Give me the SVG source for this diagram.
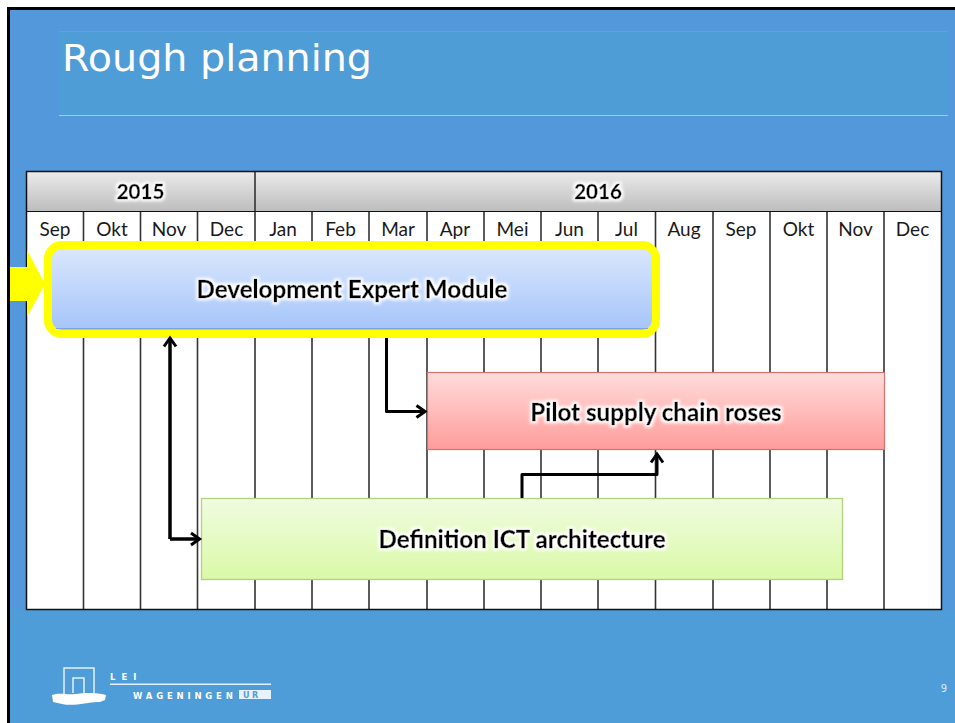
<svg xmlns="http://www.w3.org/2000/svg" width="955" height="723" viewBox="0 0 955 723">
<style>
.mon{font:19px Lato,"Liberation Sans",sans-serif;fill:#1a1a1a;text-anchor:middle}
.yr{font:bold 20.500px Lato,"Liberation Sans",sans-serif;fill:#000;stroke:#000;stroke-width:.35;text-anchor:middle}
.bar{font:bold 24.200px Lato,"Liberation Sans",sans-serif;fill:#000;stroke:#000;stroke-width:.35;text-anchor:middle}
.grid{stroke:#333;stroke-width:1.6;fill:none}
.conn{stroke:#000;fill:none;stroke-linejoin:round}
.logo{font-family:"DejaVu Sans",sans-serif;font-weight:bold;fill:#fff}
</style>
<defs>
<linearGradient id="hdr" x1="0" y1="0" x2="0" y2="1"><stop offset="0" stop-color="#ebebeb"/><stop offset="1" stop-color="#bdbdbd"/></linearGradient>
<linearGradient id="blue" x1="0" y1="0" x2="0" y2="1"><stop offset="0" stop-color="#dce8fd"/><stop offset="1" stop-color="#a3c3f9"/></linearGradient>
<linearGradient id="red" x1="0" y1="0" x2="0" y2="1"><stop offset="0" stop-color="#ffdcdc"/><stop offset="1" stop-color="#fe9c9a"/></linearGradient>
<linearGradient id="green" x1="0" y1="0" x2="0" y2="1"><stop offset="0" stop-color="#f0fcdf"/><stop offset="1" stop-color="#daf9a8"/></linearGradient>
<filter id="glow" x="-10%" y="-40%" width="120%" height="180%">
<feMorphology in="SourceAlpha" operator="dilate" radius="1.5" result="d"/>
<feGaussianBlur in="d" stdDeviation="1.6" result="b"/>
<feFlood flood-color="#fff"/><feComposite in2="b" operator="in" result="w"/>
<feMerge><feMergeNode in="w"/><feMergeNode in="SourceGraphic"/></feMerge>
</filter>
<marker id="arr" markerUnits="userSpaceOnUse" markerWidth="16" markerHeight="18" refX="12.5" refY="8" orient="auto"><path d="M4 2L12.500 8L4 14" fill="none" stroke="#000" stroke-width="3"/></marker>
</defs>

<g id="background">
<rect width="955" height="723" fill="#fff"/>
<rect x="7" y="7" width="948" height="716" fill="#000"/>
<rect x="10" y="10" width="945" height="713" fill="#5398da"/>
<rect x="10" y="610" width="945" height="113" fill="#4f9dd8"/>
<rect x="59" y="31" width="889" height="84" fill="#4e9dd7"/>
<line x1="59" y1="31.500" x2="948" y2="31.500" stroke="#5aa6d8"/>
<line x1="59" y1="115.500" x2="948" y2="115.500" stroke="#9ccbec"/>
</g>
<g id="title"><text x="62" y="71" font-family="'DejaVu Sans',sans-serif" font-size="38" fill="#fff" textLength="310" lengthAdjust="spacingAndGlyphs">Rough planning</text></g>

<g id="table">
<rect x="26.500" y="211" width="915" height="398" fill="#fff"/>
<rect x="26.500" y="171.500" width="915" height="40" fill="url(#hdr)"/>
<path class="grid" d="M83.500 211V609M140.500 211V609M197.500 211V609M255 171V609M312 211V609M369 211V609M427 211V609M484 211V609M541 211V609M598 211V609M655.500 211V609M713 211V609M770 211V609M827 211V609M884 211V609"/>
<rect x="26.500" y="171.500" width="915" height="438" fill="none" stroke="#111" stroke-width="1.500"/>
<line x1="26" y1="211.500" x2="941" y2="211.500" stroke="#111" stroke-width="1.200"/>
<text class="yr" x="140.500" y="199" filter="url(#glow)">2015</text>
<text class="yr" x="598" y="199" filter="url(#glow)">2016</text>
<text class="mon" x="55" y="236">Sep</text><text class="mon" x="112" y="236">Okt</text><text class="mon" x="169" y="236">Nov</text><text class="mon" x="226.500" y="236">Dec</text><text class="mon" x="283" y="236">Jan</text><text class="mon" x="340.500" y="236">Feb</text><text class="mon" x="398" y="236">Mar</text><text class="mon" x="455" y="236">Apr</text><text class="mon" x="512.500" y="236">Mei</text><text class="mon" x="569.500" y="236">Jun</text><text class="mon" x="626.500" y="236">Jul</text><text class="mon" x="684" y="236">Aug</text><text class="mon" x="741" y="236">Sep</text><text class="mon" x="798.500" y="236">Okt</text><text class="mon" x="855.500" y="236">Nov</text><text class="mon" x="912.500" y="236">Dec</text>
</g>

<g id="node-highlight-arrow"><path d="M10 267H27V250L45 284L27 317V301H10Z" fill="#ffff00"/></g>
<g id="node-development">
<rect x="48" y="245" width="608" height="89" rx="14" fill="url(#blue)" stroke="#ffff00" stroke-width="8"/>
<path d="M56 328.500H648" stroke="#7ea4e0" stroke-width="1"/>
<text class="bar" x="352" y="298" filter="url(#glow)">Development Expert Module</text>
</g>
<g id="node-pilot">
<rect x="427.500" y="372.500" width="457" height="77" fill="url(#red)" stroke="#d9706e" stroke-width="1.200"/>
<text class="bar" x="656" y="421" filter="url(#glow)">Pilot supply chain roses</text>
</g>
<g id="node-definition">
<rect x="201.500" y="498.500" width="641" height="81" fill="url(#green)" stroke="#b3d17e" stroke-width="1.300"/>
<text class="bar" x="522" y="548" filter="url(#glow)">Definition ICT architecture</text>
</g>

<g id="connectors">
<path class="conn" stroke-width="3" d="M386.500 338V411.500H425" marker-end="url(#arr)"/>
<path class="conn" stroke-width="3" d="M522 498V474.500H657V454" marker-end="url(#arr)"/>
<path class="conn" stroke-width="3.500" d="M170 539V338" marker-end="url(#arr)"/>
<path class="conn" stroke-width="3.500" d="M170 539H199.500" marker-end="url(#arr)"/>
</g>

<g id="logo">
<path d="M64 694V668H94V694" fill="none" stroke="#fff" stroke-width="1.500" opacity=".85"/>
<path d="M73 693V678H84V693" fill="none" stroke="#fff" stroke-width="1.500" opacity=".85"/>
<path d="M52 695C60 692 66 695 75 694S95 692 106 695L105 700L100 702C90 701 75 707 62 704L53 702Z" fill="#fff"/>
<rect x="110" y="683.500" width="161" height="1.500" fill="#e2f0fa"/>
<text class="logo" x="110" y="680" font-size="8.500" letter-spacing="6">LEI</text>
<text class="logo" x="133" y="698.500" font-size="8.500" letter-spacing="3.800">WAGENINGEN</text>
<rect x="239" y="690" width="32" height="9" fill="#e8f2fa"/>
<text x="243" y="698" font-family="'DejaVu Sans',sans-serif" font-weight="bold" font-size="8" letter-spacing="2.500" fill="#4f9dd8">UR</text>
</g>
<g id="page-number"><text x="944" y="692" font-family="'DejaVu Sans',sans-serif" font-size="10" fill="#d8eaf8" text-anchor="middle">9</text></g>
</svg>
